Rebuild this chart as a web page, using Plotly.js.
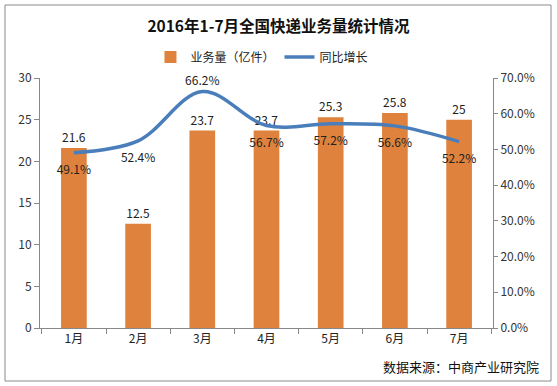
<!DOCTYPE html>
<html>
<head>
<meta charset="utf-8">
<script src="https://cdn.plot.ly/plotly-3.0.1.min.js"></script>
<style>html,body{margin:0;padding:0;background:#fff;}#chart{width:557px;height:386px;}</style>
</head>
<body>
<div id="chart"></div>
<script>
const months = ["1月","2月","3月","4月","5月","6月","7月"];
const volume = [21.6, 12.5, 23.7, 23.7, 25.3, 25.8, 25];
const growth = [0.491, 0.524, 0.662, 0.567, 0.572, 0.566, 0.522];
const growthLabelPos = ["bottom center","bottom center","top center","bottom center","bottom center","bottom center","bottom center"];

const font = "'Noto Sans CJK SC', 'Noto Sans', sans-serif";

const traces = [
  {
    type: "bar", name: "业务量（亿件）", x: months, y: volume,
    marker: {color: "#DE823D"},
    text: volume.map(v => String(v)), textposition: "outside",
    textfont: {size: 12, color: "#222", family: font},
    cliponaxis: false, hoverinfo: "none"
  },
  {
    type: "scatter", mode: "lines+markers+text", name: "同比增长", x: months, y: growth, yaxis: "y2",
    line: {color: "#4A7EBB", width: 3.5, shape: "spline", smoothing: 1},
    marker: {size: growthLabelPos.map(p => p === "top center" ? 4 : 18), color: "rgba(0,0,0,0)", line: {width: 0}},
    text: growth.map(v => (v*100).toFixed(1) + "%"), textposition: growthLabelPos,
    textfont: {size: 12, color: "#222", family: font},
    cliponaxis: false, hoverinfo: "none"
  }
];

const layout = {
  width: 557, height: 386,
  margin: {l: 40, r: 64, t: 78, b: 58},
  paper_bgcolor: "#fff", plot_bgcolor: "#fff",
  font: {family: font, size: 12, color: "#333"},
  title: {text: "<b>2016年1-7月全国快递业务量统计情况</b>", x: 0.5, xanchor: "center", y: 0.93, yanchor: "middle", font: {size: 15.5, color: "#111", family: font}},
  showlegend: true,
  legend: {orientation: "h", x: 0.49, xanchor: "center", y: (328-57)/250, yanchor: "middle", font: {size: 12, color: "#222"}, traceorder: "normal", itemwidth: 30},
  bargap: 0.6,
  xaxis: {
    showline: true, linecolor: "#888", linewidth: 1,
    ticks: "outside", tickson: "boundaries", ticklen: 5, tickcolor: "#888",
    tickfont: {size: 12, color: "#222"}, showgrid: false, zeroline: false, fixedrange: true
  },
  yaxis: {
    range: [0, 30], dtick: 5, showline: true, linecolor: "#888", linewidth: 1,
    ticks: "outside", ticklen: 5, tickcolor: "#888", showgrid: false, zeroline: false,
    tickfont: {size: 12, color: "#333"}
  },
  yaxis2: {
    range: [0, 0.7], dtick: 0.1, tickformat: ".1%", overlaying: "y", side: "right",
    showline: true, linecolor: "#888", linewidth: 1, ticks: "outside", ticklen: 4, tickcolor: "#888",
    showgrid: false, zeroline: false, tickfont: {size: 12, color: "#333"}
  },
  shapes: [{
    type: "rect", xref: "paper", yref: "paper",
    x0: (5-40)/453, x1: (551-40)/453, y0: (328-381)/250, y1: (328-5)/250,
    line: {color: "#8a8a8a", width: 1}, fillcolor: "rgba(0,0,0,0)", layer: "below"
  }],
  annotations: [{
    text: "数据来源：中商产业研究院", xref: "paper", yref: "paper",
    x: (541-40)/453, xanchor: "right", y: (328-366)/250, yanchor: "middle",
    showarrow: false, font: {size: 13, color: "#111", family: font}
  }]
};

Plotly.newPlot("chart", traces, layout, {staticPlot: true, displayModeBar: false});
</script>
</body>
</html>
